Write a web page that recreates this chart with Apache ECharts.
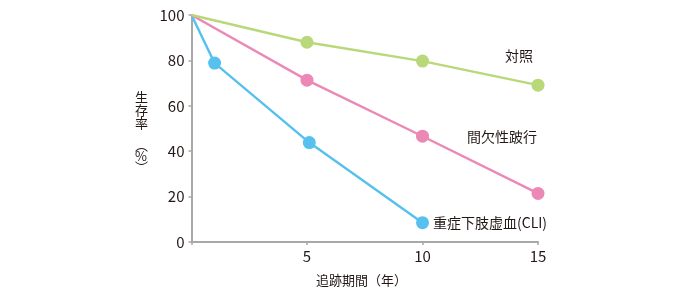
<!DOCTYPE html>
<html><head><meta charset="utf-8">
<script src="https://cdn.jsdelivr.net/npm/echarts@6/dist/echarts.min.js"></script>
<style>html,body{margin:0;padding:0;background:#fff}#c{width:696px;height:293px}</style>
</head><body><div id="c"></div>
<script>
const seriesNames = ['対照', '間欠性跛行', '重症下肢虚血(CLI)'];
const controlData = [[0,100],[5,88],[10,79.7],[15,69.1]];
const claudicationData = [[0,100],[5,71.3],[10,46.6],[15,21.4]];
const cliData = [[0,100],[1,78.8],[5.1,43.8],[10,8.5]];
const xTicks = [5,10,15];
const yTicks = [0,20,40,60,80,100];
const colors = ['#b9d87a','#ec88b5','#56c1ee'];
const labelOffsets = [[-19,-29],[-36,-57],null];

const FONT = '"Noto Sans CJK JP","Noto Sans",sans-serif';
const TXT = '#231815';

function mk(name, data, color, idx){
  const d = data.map((p,i)=>{
    if(i===0) return {value:p, symbolSize:0};
    if(i===data.length-1){
      const lab = labelOffsets[idx]
        ? {show:true, formatter:name, position:'inside', offset:labelOffsets[idx]}
        : {show:true, formatter:name, position:'right', distance:4};
      return {value:p, label:Object.assign(lab,{color:TXT,fontSize:14,fontFamily:FONT})};
    }
    return {value:p};
  });
  return {name, type:'line', data:d, symbol:'circle', symbolSize:13, color,
    lineStyle:{width:2.4,color}, itemStyle:{color}, z: 3-idx, animation:false};
}

const chart = echarts.init(document.getElementById('c'));
chart.setOption({
  animation:false,
  grid:{left:191.5,right:158,top:15,bottom:51,containLabel:false},
  xAxis:{type:'value',min:0,max:15,interval:5,
    axisLine:{lineStyle:{color:'#a8a8a8',width:2}},
    axisTick:{show:true,length:3,lineStyle:{color:'#a8a8a8',width:1.5}},
    splitLine:{show:false},
    axisLabel:{color:TXT,fontSize:15,fontFamily:FONT,margin:7,
      formatter:v=> xTicks.includes(v)? String(v):''}
  },
  yAxis:{type:'value',min:0,max:100,interval:20,
    axisLine:{show:true,lineStyle:{color:'#a8a8a8',width:2}},
    axisTick:{show:true,length:3,lineStyle:{color:'#a8a8a8',width:1.5}},
    splitLine:{show:false},
    axisLabel:{color:TXT,fontSize:15,fontFamily:FONT,margin:7,
      formatter:v=> yTicks.includes(v)? String(v):''}
  },
  graphic:[
    {type:'text',left:135,top:91,style:{text:'生\n存\n率',font:'13px '+FONT,fill:TXT,lineHeight:13,align:'center'}},
    {type:'text',left:135,top:139,style:{text:'︵\n%\n︶',font:'13px '+FONT,fill:TXT,lineHeight:11,align:'center'}},
    {type:'text',left:316,top:274,style:{text:'追跡期間（年）',font:'13px '+FONT,fill:TXT}}
  ],
  series:[
    mk(seriesNames[0], controlData, colors[0], 0),
    mk(seriesNames[1], claudicationData, colors[1], 1),
    mk(seriesNames[2], cliData, colors[2], 2)
  ]
});
</script></body></html>
